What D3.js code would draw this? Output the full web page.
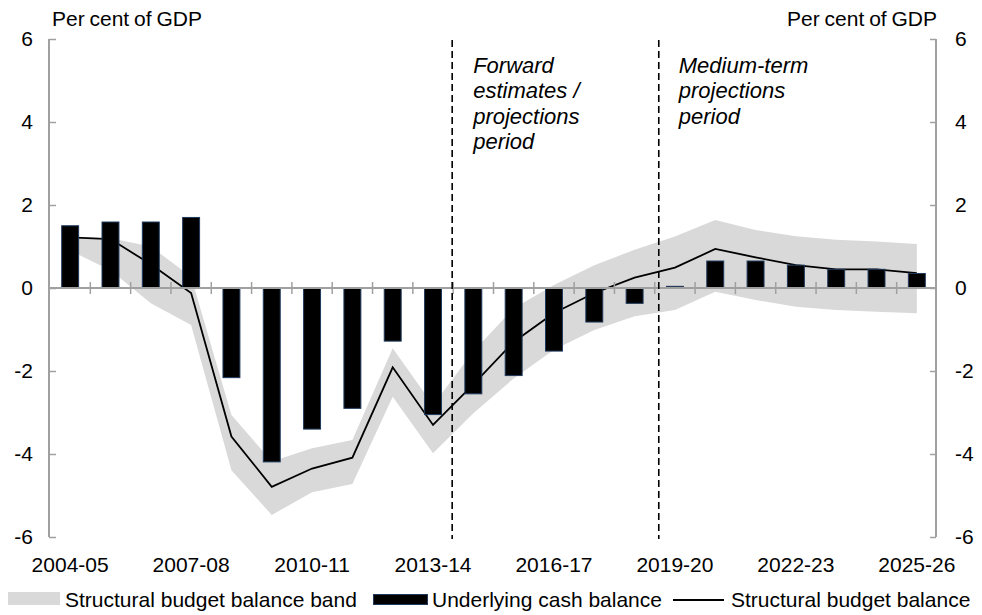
<!DOCTYPE html>
<html>
<head>
<meta charset="utf-8">
<script src="https://cdn.jsdelivr.net/npm/d3@7"></script>
<style>
  html, body { margin: 0; padding: 0; background: #fff; }
  svg { display: block; font-family: "Liberation Sans", Arial, sans-serif; }
</style>
</head>
<body>
<svg id="chart" width="982" height="615"></svg>
<script>
// ---- Data ----
const categories = ["2004-05","2005-06","2006-07","2007-08","2008-09","2009-10","2010-11","2011-12",
  "2012-13","2013-14","2014-15","2015-16","2016-17","2017-18","2018-19","2019-20","2020-21",
  "2021-22","2022-23","2023-24","2024-25","2025-26"];
const cashBalance = [1.50,1.59,1.59,1.70,-2.16,-4.19,-3.40,-2.90,-1.28,-3.05,-2.55,-2.11,-1.52,-0.82,-0.37,0.04,0.65,0.65,0.55,0.45,0.45,0.35];
const structuralBalance = [1.22,1.18,0.57,-0.12,-3.58,-4.79,-4.35,-4.09,-1.91,-3.30,-2.32,-1.30,-0.60,-0.12,0.25,0.49,0.94,0.74,0.55,0.45,0.45,0.36];
const bandUpper = [1.22,1.20,1.00,0.27,-3.06,-4.18,-3.86,-3.66,-1.45,-2.82,-1.53,-0.49,0.07,0.55,0.92,1.24,1.64,1.40,1.25,1.16,1.12,1.06];
const bandLower = [0.90,0.43,-0.37,-0.89,-4.39,-5.47,-4.92,-4.72,-2.62,-3.98,-3.02,-2.18,-1.49,-1.01,-0.68,-0.53,-0.09,-0.29,-0.45,-0.53,-0.57,-0.61];
const xTickLabels = ["2004-05","2007-08","2010-11","2013-14","2016-17","2019-20","2022-23","2025-26"];
const yTicks = [-6,-4,-2,0,2,4,6];
const periodStarts = ["2014-15","2019-20"];
const annotations = [
  ["Forward","estimates /","projections","period"],
  ["Medium-term","projections","period"]
];
const legendLabels = ["Structural budget balance band","Underlying cash balance","Structural budget balance"];
const axisTitle = "Per cent of GDP";

// ---- Layout ----
const svg = d3.select("#chart");
const leftAxisX = 49, rightAxisX = 936;
const plotTop = 39, plotBottom = 537;
const fontSize = 21;

const x = d3.scaleBand().domain(categories).range([50, 937]).padding(0);
const y = d3.scaleLinear().domain([-6, 6]).range([plotBottom, plotTop]);
const step = x.step();
const barW = step * 0.42;
const cx = c => x(c) + step / 2;

const band = categories.map((c, i) => ({c, hi: bandUpper[i], lo: bandLower[i]}));

// Band
svg.append("path")
  .datum(band)
  .attr("fill", "#d9d9d9")
  .attr("d", d3.area().x(d => cx(d.c)).y0(d => y(d.lo)).y1(d => y(d.hi)));

// Structural line
svg.append("path")
  .datum(categories.map((c, i) => ({c, v: structuralBalance[i]})))
  .attr("fill", "none")
  .attr("stroke", "#000")
  .attr("stroke-width", 1.8)
  .attr("d", d3.line().x(d => cx(d.c)).y(d => y(d.v)));

// Bars
svg.append("g").selectAll("rect")
  .data(categories.map((c, i) => ({c, v: cashBalance[i]})))
  .join("rect")
  .attr("x", d => cx(d.c) - barW / 2)
  .attr("y", d => y(Math.max(0, d.v)))
  .attr("width", barW)
  .attr("height", d => Math.max(1, Math.abs(y(d.v) - y(0))))
  .attr("fill", "#000")
  .attr("stroke", "#1f3a5c")
  .attr("stroke-width", 1);

// Axes (grey)
const axisColor = "#a0a0a0";
const leftAxis = svg.append("g").attr("transform", `translate(${leftAxisX},0)`)
  .call(d3.axisRight(y).tickValues(yTicks).tickSize(7).tickFormat(""));
const rightAxis = svg.append("g").attr("transform", `translate(${rightAxisX},0)`)
  .call(d3.axisLeft(y).tickValues(yTicks).tickSize(6).tickFormat(""));
[leftAxis, rightAxis].forEach(g => {
  g.select(".domain").attr("stroke", axisColor).attr("stroke-width", 2)
    .attr("d", `M0,${plotTop}V${plotBottom}`);
  g.selectAll(".tick line").attr("stroke", axisColor).attr("stroke-width", 1.5);
});

// Zero line with category ticks
svg.append("line")
  .attr("x1", leftAxisX).attr("x2", rightAxisX)
  .attr("y1", y(0)).attr("y2", y(0))
  .attr("stroke", axisColor).attr("stroke-width", 2);
svg.append("g").selectAll("line")
  .data(categories.slice(1))
  .join("line")
  .attr("x1", d => x(d)).attr("x2", d => x(d))
  .attr("y1", y(0) - 6).attr("y2", y(0) + 6)
  .attr("stroke", axisColor).attr("stroke-width", 1.5);

// Y tick labels
svg.append("g").selectAll("text")
  .data(yTicks).join("text")
  .attr("x", 33).attr("y", d => y(d))
  .attr("dy", "0.35em").attr("text-anchor", "end")
  .attr("font-size", fontSize).attr("fill", "#000")
  .text(d => d);
svg.append("g").selectAll("text")
  .data(yTicks).join("text")
  .attr("x", 955).attr("y", d => y(d))
  .attr("dy", "0.35em").attr("text-anchor", "start")
  .attr("font-size", fontSize).attr("fill", "#000")
  .text(d => d);

// X tick labels
svg.append("g").selectAll("text")
  .data(xTickLabels).join("text")
  .attr("x", d => cx(d)).attr("y", 572)
  .attr("text-anchor", "middle")
  .attr("font-size", fontSize).attr("fill", "#000")
  .text(d => d);

// Axis titles
svg.append("text").attr("x", 52).attr("y", 26).attr("font-size", fontSize)
  .attr("word-spacing", "-1px").text(axisTitle);
svg.append("text").attr("x", 937).attr("y", 26).attr("font-size", fontSize)
  .attr("text-anchor", "end").attr("word-spacing", "-1px").text(axisTitle);

// Period dividers
const dividerX = [x(periodStarts[0]) - 1, x(periodStarts[1]) + 4];
svg.append("g").selectAll("line")
  .data(dividerX).join("line")
  .attr("x1", d => d).attr("x2", d => d)
  .attr("y1", 40).attr("y2", plotBottom + 2)
  .attr("stroke", "#000").attr("stroke-width", 1.6)
  .attr("stroke-dasharray", "7,4");

// Annotations
const annX = [dividerX[0] + 21, dividerX[1] + 20];
annotations.forEach((lines, k) => {
  const t = svg.append("text")
    .attr("font-size", 22).attr("font-style", "italic").attr("fill", "#000");
  lines.forEach((ln, j) => {
    t.append("tspan").attr("x", annX[k]).attr("y", 72.5 + j * 25.5).text(ln);
  });
});

// Legend
const ly = 607;
const leg = svg.append("g");
leg.append("rect").attr("x", 8).attr("y", 592).attr("width", 52).attr("height", 13).attr("fill", "#d9d9d9");
leg.append("text").attr("x", 65).attr("y", ly).attr("font-size", fontSize).text(legendLabels[0]);
leg.append("rect").attr("x", 373.5).attr("y", 594.5).attr("width", 54).attr("height", 10)
  .attr("fill", "#000").attr("stroke", "#1f3a5c").attr("stroke-width", 1);
leg.append("text").attr("x", 432).attr("y", ly).attr("font-size", fontSize).text(legendLabels[1]);
leg.append("line").attr("x1", 673).attr("x2", 724).attr("y1", 600).attr("y2", 600)
  .attr("stroke", "#000").attr("stroke-width", 1.8);
leg.append("text").attr("x", 731).attr("y", ly).attr("font-size", fontSize).text(legendLabels[2]);
</script>
</body>
</html>
